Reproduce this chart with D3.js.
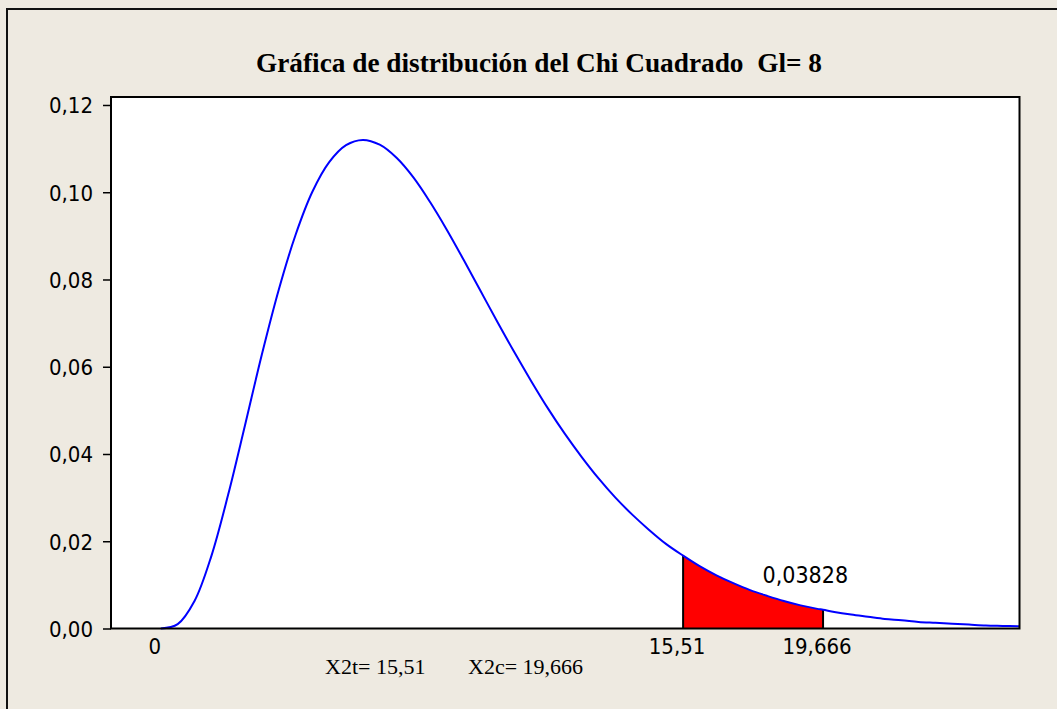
<!DOCTYPE html>
<html lang="es">
<head>
<meta charset="UTF-8">
<title>Chi Cuadrado</title>
<script src="https://cdn.jsdelivr.net/npm/d3@7"></script>
<style>
    body { margin:0; background:#eeeae1; }
    .sans { font-family:"DejaVu Sans Condensed","DejaVu Sans",sans-serif; font-stretch:condensed; fill:#000; }
    .serif { font-family:"Liberation Serif","Times New Roman",serif; fill:#000; }
</style>
</head>
<body>
<svg width="1057" height="709"></svg>
<script>
// densidad chi cuadrado gl = 8
var chiX = [0,0.5,1,1.5,2,2.5,3,3.5,4,4.5,5,5.5,6,6.5,7,7.5,8,8.5,9,9.5,10,10.5,11,11.5,12,12.5,13,13.5,14,14.5,15,15.51,16,16.5,17,17.5,18,18.5,19,19.5,19.666,20,20.5,21,21.5,22,22.5,23,23.5,24,24.5,25,25.5];
var chiY = [0,0.0010,0.0063,0.0166,0.0307,0.0466,0.0628,0.0776,0.0902,0.1001,0.1069,0.1108,0.1120,0.1109,0.1079,0.1034,0.0977,0.0913,0.0844,0.0773,0.0702,0.0633,0.0567,0.0504,0.0446,0.0393,0.0344,0.0300,0.0261,0.0226,0.0194,0.0167,0.0143,0.0122,0.0104,0.0088,0.0075,0.0063,0.0053,0.0045,0.0043,0.0038,0.0032,0.0027,0.0022,0.0019,0.0015,0.0013,0.0011,0.0009,0.0007,0.0006,0.0005];
var yTicks = [0,0.02,0.04,0.06,0.08,0.10,0.12];
var xTicks = [0,15.51,19.666];
var xTickLabels = ["0","15,51","19,666"];
var critX = 15.51, calcX = 19.666;
var areaLabel = "0,03828";
var titulo = "Gráfica de distribución del Chi Cuadrado  Gl= 8";
var notaT = "X2t= 15,51", notaC = "X2c= 19,666";

var svg = d3.select("svg");
var pLeft = 111, pRight = 1019.5, pTop = 97, pBottom = 628.5;

var x = d3.scaleLinear().domain([-1.48,25.5]).range([pLeft,pRight]);
var y = d3.scaleLinear().domain([0,0.12183]).range([pBottom,pTop]);

var puntos = chiX.map(function(v,i){ return {x:v, y:chiY[i]}; });
var sombra = puntos.filter(function(d){ return d.x>=critX && d.x<=calcX; });

// marco exterior
svg.append("rect").attr("x",7).attr("y",9).attr("width",1100).attr("height",760)
    .attr("fill","#eeeae1").attr("stroke","#111").attr("stroke-width",2);

svg.append("rect").attr("x",pLeft).attr("y",pTop).attr("width",pRight-pLeft).attr("height",pBottom-pTop)
    .attr("fill","#fff");

// area sombreada
svg.append("path").datum(sombra)
    .attr("fill","#ff0000")
    .attr("d",d3.area().x(function(d){return x(d.x);}).y0(y(0)).y1(function(d){return y(d.y);}).curve(d3.curveCatmullRom));

[critX,calcX].forEach(function(v,i){
    svg.append("line").attr("x1",x(v)).attr("x2",x(v))
        .attr("y1",y(0)).attr("y2",y(sombra[i?sombra.length-1:0].y))
        .attr("stroke","#000").attr("stroke-width",2);
});

// curva
svg.append("path").datum(puntos)
    .attr("fill","none").attr("stroke","#0000ff").attr("stroke-width",2)
    .attr("d",d3.line().x(function(d){return x(d.x);}).y(function(d){return y(d.y);}).curve(d3.curveCatmullRom));

svg.append("rect").attr("x",pLeft).attr("y",pTop).attr("width",pRight-pLeft).attr("height",pBottom-pTop)
    .attr("fill","none").attr("stroke","#000").attr("stroke-width",2);

// eje y
var yAxis = svg.append("g").attr("transform","translate("+pLeft+",0)")
    .call(d3.axisLeft(y).tickValues(yTicks).tickSize(8).tickPadding(10)
        .tickFormat(function(d){ return d3.format(".2f")(d).replace(".",","); }));
yAxis.select(".domain").remove();
yAxis.selectAll("line").attr("stroke","#000").attr("stroke-width",1.5);
yAxis.selectAll("text").attr("class","sans").attr("font-size",22).attr("dy","0.36em");

// eje x (sin marcas)
svg.append("g").selectAll("text").data(xTicks).enter().append("text")
    .attr("class","sans").attr("font-size",22).attr("text-anchor","middle")
    .attr("x",function(d){return x(d)-6;}).attr("y",654)
    .text(function(d,i){return xTickLabels[i];});

svg.append("text").attr("class","sans").attr("font-size",23).attr("text-anchor","middle")
    .attr("x",x(19.14)).attr("y",583).text(areaLabel);

svg.append("text").attr("class","serif").attr("font-size",27).attr("font-weight","bold")
    .attr("x",256).attr("y",72).attr("textLength",566).attr("lengthAdjust","spacingAndGlyphs")
    .style("white-space","pre").text(titulo);

svg.append("text").attr("class","serif").attr("font-size",22).attr("x",325).attr("y",674).text(notaT);
svg.append("text").attr("class","serif").attr("font-size",22).attr("x",468).attr("y",674).text(notaC);
</script>
</body>
</html>
